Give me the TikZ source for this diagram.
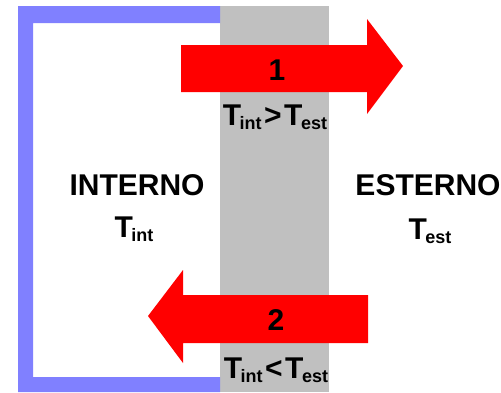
\documentclass[tikz,border=0pt]{standalone}
\usepackage{fontspec}
\setmainfont{Liberation Sans}
\newcommand{\Tsb}[1]{T\kern-1.5pt\raisebox{-4.5pt}{\fontsize{18}{18}\selectfont #1}}
\definecolor{frameblue}{HTML}{8080FF}
\definecolor{wallgray}{HTML}{C0C0C0}
\definecolor{arrowred}{HTML}{FF0000}
\tikzset{
  lbl/.style={inner sep=0pt, anchor=base, font=\bfseries\fontsize{30}{30}\selectfont, text=black},
  redarrow/.style={fill=arrowred, draw=none},
}
\begin{document}
\begin{tikzpicture}[x=1pt,y=-1pt]
\useasboundingbox[fill=white] (0,0) rectangle (501,392);
% wall
\fill[wallgray] (220,6) rectangle (329,392);
% frame
\fill[frameblue] (18,6) -- (220,6) -- (220,23) -- (33,23) -- (33,377) -- (220,377) -- (220,392) -- (18,392) -- cycle;
% arrow 1
\fill[redarrow] (181,45) -- (367,45) -- (367,19) -- (403,66) -- (367,114) -- (367,92) -- (181,92) -- cycle;
% arrow 2
\fill[redarrow] (368,295) -- (183,295) -- (183,270) -- (148,316) -- (183,363) -- (183,343) -- (368,343) -- cycle;
% labels
\node[lbl] (n1) at (277,80) {1};
\node[lbl] (n2) at (276,330) {2};
\node[lbl] (c1) at (275,125) {\Tsb{int}\kern2.5pt>\kern2.5pt\Tsb{est}};
\node[lbl] (c2) at (276,378) {\Tsb{int}\kern2.5pt<\kern2.5pt\Tsb{est}};
\node[lbl] (int) at (137,195) {INTERNO};
\node[lbl] (est) at (428,195) {ESTERNO};
\node[lbl] (ti) at (134,237) {\Tsb{int}};
\node[lbl] (te) at (430,239) {\Tsb{est}};
\end{tikzpicture}
\end{document}
